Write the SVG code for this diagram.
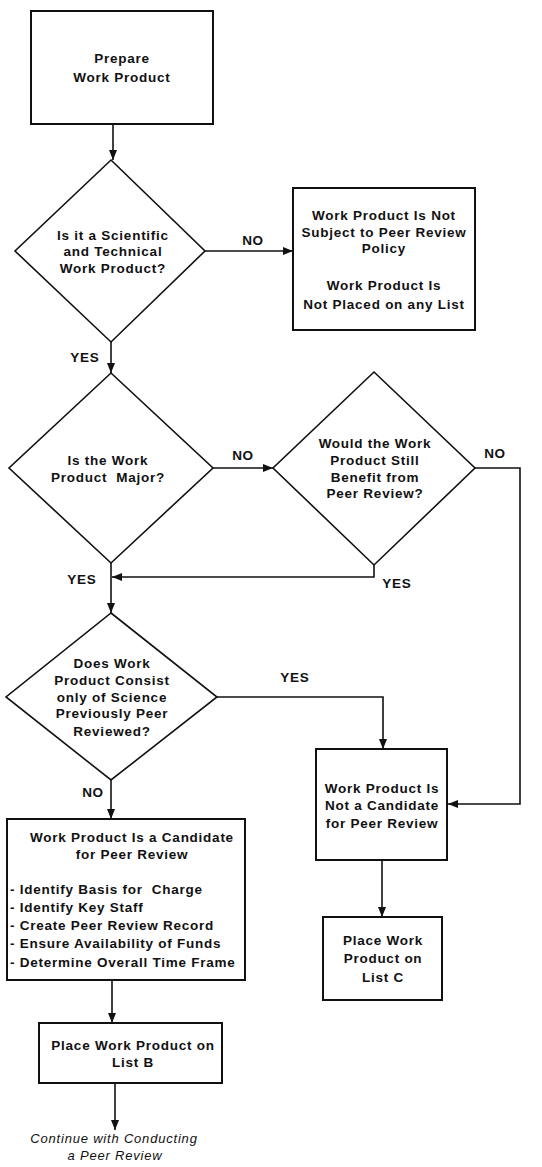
<svg xmlns="http://www.w3.org/2000/svg" width="542" height="1167" viewBox="0 0 542 1167">
  <style>
    .box { fill: #fff; stroke: #111; stroke-width: 2; }
    .dia { fill: #fff; stroke: #111; stroke-width: 1.6; }
    .t { font-family: "Liberation Sans", Arial, sans-serif; font-weight: bold; font-size: 13.5px; letter-spacing: 0.75px; fill: #111; text-anchor: middle; white-space: pre; }
    .tl { text-anchor: start; }
    .it { font-family: "Liberation Sans", Arial, sans-serif; font-style: italic; font-size: 13px; letter-spacing: 0.8px; fill: #111; text-anchor: middle; }
    .c { fill: none; stroke: #111; stroke-width: 1.6; marker-end: url(#arr); }
  </style>
  <defs>
    <marker id="arr" markerUnits="userSpaceOnUse" markerWidth="10" markerHeight="10" viewBox="0 0 10 10" refX="10" refY="5" orient="auto">
      <path d="M0,1 L10,5 L0,9 Z" fill="#111"/>
    </marker>
  </defs>
  <rect width="542" height="1167" fill="#fff"/>

  <g id="connectors">
    <path class="c" d="M113,124 V160"/>
    <path class="c" d="M205,251 H293"/>
    <path class="c" d="M111,342 V373"/>
    <path class="c" d="M213,468 H273"/>
    <path class="c" d="M475,468 H520 V804 H448"/>
    <path class="c" d="M374,565 V577 H112"/>
    <path class="c" d="M111,563 V613"/>
    <path class="c" d="M217,697 H383 V749"/>
    <path class="c" d="M111,780 V819"/>
    <path class="c" d="M382,860 V917"/>
    <path class="c" d="M112,980 V1023"/>
    <path class="c" d="M115,1083 V1130"/>
    <text class="t" x="253" y="245">NO</text>
    <text class="t" x="85" y="362">YES</text>
    <text class="t" x="243" y="460">NO</text>
    <text class="t" x="495" y="458">NO</text>
    <text class="t" x="82" y="584">YES</text>
    <text class="t" x="397" y="588">YES</text>
    <text class="t" x="295" y="682">YES</text>
    <text class="t" x="93" y="797">NO</text>
  </g>

  <g id="prepare">
    <rect class="box" x="31" y="11" width="182" height="113"/>
    <text class="t" x="122" y="63">Prepare</text>
    <text class="t" x="122" y="82">Work Product</text>
  </g>

  <g id="q-scientific">
    <polygon class="dia" points="111,160 205,251 111,342 15,251"/>
    <text class="t" x="113" y="240">Is it a Scientific</text>
    <text class="t" x="113" y="256">and Technical</text>
    <text class="t" x="113" y="273">Work Product?</text>
  </g>

  <g id="not-subject">
    <rect class="box" x="293" y="188" width="182" height="142"/>
    <text class="t" x="384" y="220">Work Product Is Not</text>
    <text class="t" x="384" y="237">Subject to Peer Review</text>
    <text class="t" x="384" y="253">Policy</text>
    <text class="t" x="384" y="290">Work Product Is</text>
    <text class="t" x="384" y="309">Not Placed on any List</text>
  </g>

  <g id="q-major">
    <polygon class="dia" points="111,373 213,468 111,563 9,468"/>
    <text class="t" x="108" y="465">Is the Work</text>
    <text class="t" x="108" y="482" xml:space="preserve">Product  Major?</text>
  </g>

  <g id="q-benefit">
    <polygon class="dia" points="374,372 475,468 374,565 273,468"/>
    <text class="t" x="375" y="448">Would the Work</text>
    <text class="t" x="375" y="465">Product Still</text>
    <text class="t" x="375" y="482">Benefit from</text>
    <text class="t" x="375" y="498">Peer Review?</text>
  </g>

  <g id="q-previously">
    <polygon class="dia" points="111,613 217,697 111,780 6,697"/>
    <text class="t" x="112" y="668">Does Work</text>
    <text class="t" x="112" y="685">Product Consist</text>
    <text class="t" x="112" y="702">only of Science</text>
    <text class="t" x="112" y="718">Previously Peer</text>
    <text class="t" x="112" y="736">Reviewed?</text>
  </g>

  <g id="not-candidate">
    <rect class="box" x="316" y="749" width="131" height="111"/>
    <text class="t" x="382" y="793">Work Product Is</text>
    <text class="t" x="382" y="810">Not a Candidate</text>
    <text class="t" x="382" y="828">for Peer Review</text>
  </g>

  <g id="list-c">
    <rect class="box" x="323" y="917" width="119" height="83"/>
    <text class="t" x="383" y="945">Place Work</text>
    <text class="t" x="383" y="963">Product on</text>
    <text class="t" x="383" y="982">List C</text>
  </g>

  <g id="candidate">
    <rect class="box" x="7" y="819" width="238" height="161"/>
    <text class="t" x="132" y="842">Work Product Is a Candidate</text>
    <text class="t" x="132" y="859">for Peer Review</text>
    <text class="t tl" x="10" y="894" xml:space="preserve">- Identify Basis for  Charge</text>
    <text class="t tl" x="10" y="912">- Identify Key Staff</text>
    <text class="t tl" x="10" y="930">- Create Peer Review Record</text>
    <text class="t tl" x="10" y="948">- Ensure Availability of Funds</text>
    <text class="t tl" x="10" y="967">- Determine Overall Time Frame</text>
  </g>

  <g id="list-b">
    <rect class="box" x="39" y="1023" width="183" height="60"/>
    <text class="t" x="133" y="1050">Place Work Product on</text>
    <text class="t" x="133" y="1067">List B</text>
  </g>

  <g id="continue">
    <text class="it" x="114" y="1143">Continue with Conducting</text>
    <text class="it" x="115" y="1160">a Peer Review</text>
  </g>
</svg>
